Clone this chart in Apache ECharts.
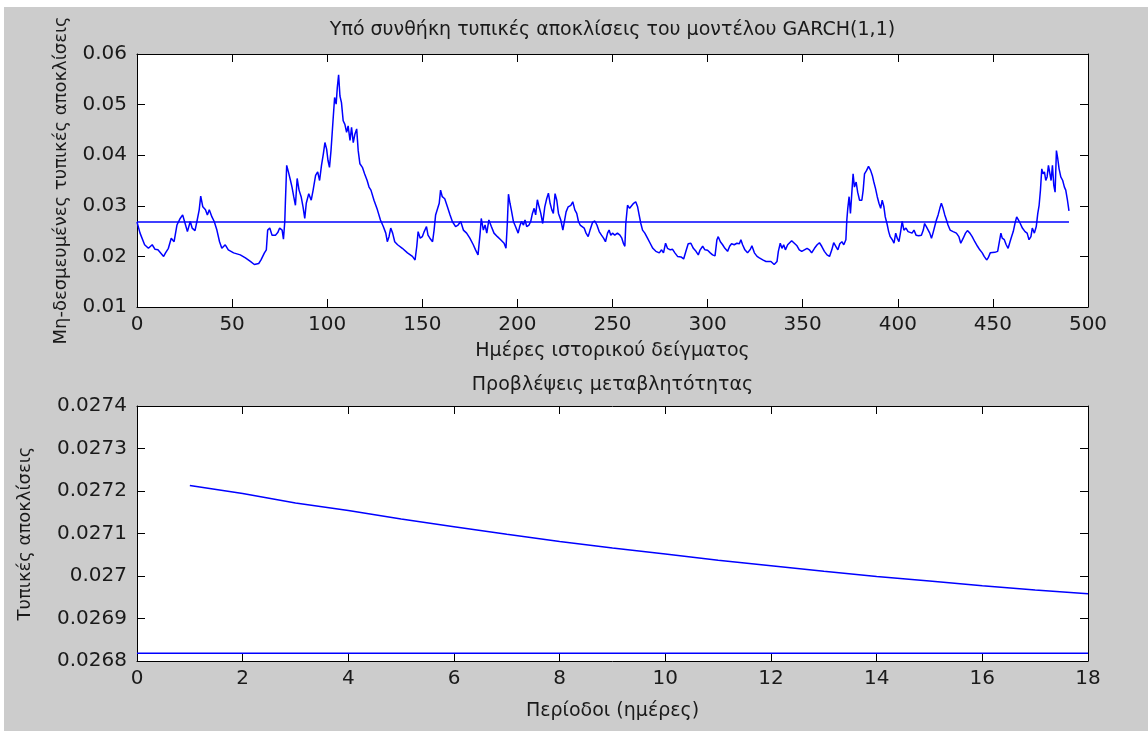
<!DOCTYPE html>
<html>
<head>
<meta charset="utf-8">
<script src="https://cdn.jsdelivr.net/npm/echarts@6.0.0/dist/echarts.min.js"></script>
<style>
  html, body { margin: 0; padding: 0; background: #fff; }
  #wrap { position: relative; width: 1148px; height: 731px; background: #fff; }
  #figbg { position: absolute; left: 4px; top: 7px; right: 0; bottom: 0; background: #cccccc; }
  #main { position: absolute; left: 0; top: 0; width: 1148px; height: 731px; }
</style>
</head>
<body>
<div id="wrap"><div id="figbg"></div><div id="main"></div></div>
<script>
// ιστορικό δείγμα: ημέρα / τυπική απόκλιση υπό συνθήκη (τιμές διαβασμένες από το γράφημα)
var histDay = [
  0, 1.6, 4, 6, 8, 9.5, 11, 14, 15, 16.5,
  18, 19.5, 21, 22.7, 24, 25.3, 26.5, 28, 29, 30.5,
  31.5, 32.7, 33.5, 34.6, 36, 37, 38, 39.4, 40.6, 42,
  43.4, 44.6, 46.4, 48, 50.8, 54.3, 57, 59.6, 61.7, 64,
  65.2, 67, 68, 68.7, 69.8, 71, 72.8, 74, 75, 76.3,
  77, 77.7, 78, 78.7, 79.6, 80.7, 81.5, 82.4, 83.3, 84.2,
  85.2, 86.3, 87.3, 88.2, 89, 90.3, 91.6, 92.6, 93.9, 95,
  96, 97, 98, 98.8, 99.7, 100.4, 101.2, 102, 103, 103.9,
  104.7, 105.3, 106, 106.7, 107.5, 108.4, 109.3, 110.2, 111, 112,
  112.8, 113.7, 114.6, 115.5, 116.3, 117.2, 118.5, 119.7, 121, 122,
  123, 124.6, 126.4, 128, 129.5, 130.8, 131.6, 132.5, 133.4, 134.4,
  135.5, 137, 139.5, 142.2, 144.8, 146.2, 147.1, 147.8, 148.9, 150,
  151, 152.2, 153, 154, 155.4, 156.2, 157, 158, 158.9, 159.6,
  160.5, 161.8, 163.2, 164.6, 165.8, 167.5, 168.8, 170.2, 171.6, 173.3,
  175, 176.8, 178, 179.3, 180.4, 181, 182.1, 183, 183.9, 185,
  186.3, 187.7, 189.5, 191.2, 193, 194, 194.7, 195.3, 196.1, 196.8,
  197.9, 199, 200.4, 201.2, 202.1, 203.2, 204, 204.9, 206.1, 207,
  207.9, 208.8, 209.6, 210.5, 211.4, 212.3, 213.3, 214.4, 215.4, 216.3,
  217.2, 218.1, 218.9, 219.8, 220.7, 221.6, 222.8, 223.9, 224.9, 225.6,
  226.7, 228.1, 229.1, 230.2, 231.2, 232.1, 233, 234, 235.1, 236.1,
  237.2, 238.2, 239.5, 240.7, 241.8, 243, 244.2, 245.3, 246.3, 247.4,
  248.2, 249.1, 250, 251.2, 252.6, 253.9, 254.9, 255.8, 256.5, 257,
  257.9, 259, 260, 261.1, 262.2, 263.2, 264, 264.9, 265.8, 267,
  268.4, 269.8, 271.2, 272.8, 274.6, 275.8, 276.8, 277.9, 278.9, 280.4,
  281.6, 282.8, 284.2, 286, 287.4, 288.6, 289.8, 291.2, 292.5, 293.9,
  295.1, 296.1, 297.4, 298.6, 300, 301.4, 302.6, 303.9, 304.9, 305.6,
  306.7, 307.9, 309.1, 310.5, 311.6, 312.6, 314, 315.4, 316.7, 317.5,
  318.4, 319.6, 321, 322.5, 323.3, 324.6, 326, 327.2, 329, 330.7,
  333.3, 335, 336.5, 337.2, 338.2, 339.1, 340, 340.9, 342.1, 343.1,
  344.2, 345.6, 347, 348.2, 349.5, 350.9, 352.3, 353.5, 354.7, 356.2,
  357.6, 358.8, 360, 361.4, 362.8, 364.1, 365.3, 366.3, 367.4, 368.5,
  369.5, 370.6, 371.6, 372.7, 373.2, 373.7, 374.4, 375.1, 375.8, 376.5,
  377.2, 378.1, 378.9, 379.9, 381.1, 381.8, 382.5, 383.6, 384.6, 385.7,
  386.6, 387.4, 388.3, 389.2, 390.1, 391, 391.8, 392.7, 393.4, 394.3,
  395.2, 396, 397.1, 398, 398.9, 399.7, 400.6, 401.5, 402.3, 403.2,
  404.3, 405.4, 406.4, 407.5, 408.5, 409.6, 411, 412.4, 413.4, 414.1,
  415, 415.9, 416.8, 417.7, 418.5, 419.4, 420.3, 421.2, 422.1, 422.9,
  423.8, 424.7, 425.6, 426.4, 427.5, 429.1, 430.8, 432.1, 433.1, 434.4,
  435.6, 436.6, 437.9, 439.1, 440.5, 441.9, 443.1, 444.4, 445.4, 446.7,
  447.5, 448.6, 449.6, 451, 452.5, 453.5, 454.2, 454.9, 456, 457,
  458, 459, 459.8, 460.7, 461.6, 462.5, 463.4, 464.4, 465.5, 466.9,
  468, 469, 470, 470.7, 471.8, 472.8, 473.6, 474.3, 475, 475.7,
  476.4, 477.1, 477.8, 478.5, 479.2, 479.9, 480.6, 481.3, 482, 482.7,
  483.4, 484.1, 484.8, 485.7, 486.7, 487.6, 488.3, 489.2, 490
];
var histSigma = [
  0.0268, 0.0246, 0.0223, 0.0216, 0.0223, 0.0214, 0.0213, 0.0200, 0.0207, 0.0216,
  0.0236, 0.0229, 0.0262, 0.0275, 0.0282, 0.0265, 0.0249, 0.0269, 0.0256, 0.0251,
  0.0269, 0.0292, 0.0319, 0.0298, 0.0292, 0.0282, 0.0292, 0.0278, 0.0269, 0.0252,
  0.0229, 0.0216, 0.0223, 0.0213, 0.0207, 0.0203, 0.0197, 0.0190, 0.0184, 0.0186,
  0.0193, 0.0207, 0.0213, 0.0252, 0.0256, 0.0242, 0.0242, 0.0247, 0.0256, 0.0252,
  0.0234, 0.0269, 0.0305, 0.0380, 0.0367, 0.0350, 0.0337, 0.0318, 0.0301, 0.0354,
  0.0331, 0.0318, 0.0298, 0.0275, 0.0305, 0.0324, 0.0311, 0.0331, 0.0360, 0.0367,
  0.0350, 0.0380, 0.0403, 0.0425, 0.0412, 0.0390, 0.0376, 0.0409, 0.0465, 0.0514,
  0.0501, 0.0533, 0.0559, 0.0517, 0.0504, 0.0468, 0.0461, 0.0445, 0.0458, 0.0429,
  0.0455, 0.0425, 0.0442, 0.0452, 0.0409, 0.0383, 0.0376, 0.0363, 0.0350, 0.0337,
  0.0331, 0.0311, 0.0292, 0.0272, 0.0259, 0.0246, 0.0229, 0.0239, 0.0256, 0.0246,
  0.0229, 0.0223, 0.0216, 0.0207, 0.0200, 0.0193, 0.0220, 0.0249, 0.0236, 0.0239,
  0.0249, 0.0259, 0.0242, 0.0236, 0.0229, 0.0252, 0.0282, 0.0285, 0.0305, 0.0331,
  0.0318, 0.0314, 0.0298, 0.0282, 0.0269, 0.0259, 0.0262, 0.0269, 0.0252, 0.0246,
  0.0236, 0.0223, 0.0213, 0.0203, 0.0246, 0.0275, 0.0252, 0.0262, 0.0246, 0.0272,
  0.0259, 0.0246, 0.0239, 0.0233, 0.0226, 0.0216, 0.0265, 0.0323, 0.0305, 0.0292,
  0.0269, 0.0259, 0.0246, 0.0259, 0.0269, 0.0262, 0.0272, 0.0259, 0.0262, 0.0269,
  0.0285, 0.0295, 0.0282, 0.0312, 0.0298, 0.0285, 0.0265, 0.0298, 0.0314, 0.0325,
  0.0305, 0.0292, 0.0285, 0.0324, 0.0311, 0.0285, 0.0272, 0.0252, 0.0249, 0.0288,
  0.0298, 0.0301, 0.0308, 0.0292, 0.0285, 0.0269, 0.0262, 0.0265, 0.0256, 0.0246,
  0.0239, 0.0252, 0.0267, 0.0270, 0.0262, 0.0249, 0.0242, 0.0236, 0.0229, 0.0246,
  0.0252, 0.0242, 0.0246, 0.0242, 0.0246, 0.0242, 0.0236, 0.0225, 0.0220, 0.0265,
  0.0301, 0.0295, 0.0298, 0.0305, 0.0308, 0.0298, 0.0282, 0.0265, 0.0252, 0.0246,
  0.0236, 0.0226, 0.0216, 0.0210, 0.0207, 0.0213, 0.0207, 0.0226, 0.0216, 0.0213,
  0.0214, 0.0207, 0.0200, 0.0199, 0.0195, 0.0210, 0.0225, 0.0226, 0.0216, 0.0210,
  0.0203, 0.0213, 0.0220, 0.0213, 0.0212, 0.0207, 0.0203, 0.0201, 0.0233, 0.0239,
  0.0229, 0.0223, 0.0216, 0.0210, 0.0220, 0.0225, 0.0223, 0.0226, 0.0225, 0.0233,
  0.0223, 0.0213, 0.0207, 0.0214, 0.0221, 0.0207, 0.0200, 0.0197, 0.0193, 0.0190,
  0.0190, 0.0184, 0.0190, 0.0210, 0.0226, 0.0216, 0.0223, 0.0213, 0.0223, 0.0220,
  0.0231, 0.0226, 0.0221, 0.0213, 0.0210, 0.0213, 0.0216, 0.0213, 0.0207, 0.0216,
  0.0223, 0.0227, 0.0220, 0.0210, 0.0203, 0.0200, 0.0213, 0.0227, 0.0220, 0.0213,
  0.0225, 0.0229, 0.0223, 0.0233, 0.0272, 0.0295, 0.0318, 0.0285, 0.0324, 0.0363,
  0.0337, 0.0347, 0.0327, 0.0311, 0.0311, 0.0331, 0.0363, 0.0370, 0.0378, 0.0370,
  0.0360, 0.0347, 0.0334, 0.0318, 0.0305, 0.0295, 0.0311, 0.0298, 0.0278, 0.0265,
  0.0249, 0.0239, 0.0233, 0.0226, 0.0246, 0.0236, 0.0229, 0.0249, 0.0269, 0.0252,
  0.0256, 0.0249, 0.0252, 0.0246, 0.0252, 0.0242, 0.0241, 0.0242, 0.0252, 0.0265,
  0.0259, 0.0256, 0.0246, 0.0236, 0.0246, 0.0259, 0.0272, 0.0282, 0.0295, 0.0305,
  0.0295, 0.0282, 0.0272, 0.0262, 0.0252, 0.0249, 0.0246, 0.0239, 0.0226, 0.0236,
  0.0246, 0.0251, 0.0246, 0.0239, 0.0229, 0.0220, 0.0213, 0.0207, 0.0200, 0.0193,
  0.0197, 0.0207, 0.0210, 0.0208, 0.0210, 0.0213, 0.0246, 0.0236, 0.0233, 0.0223,
  0.0216, 0.0229, 0.0239, 0.0249, 0.0265, 0.0278, 0.0272, 0.0265, 0.0256, 0.0249,
  0.0246, 0.0233, 0.0239, 0.0256, 0.0246, 0.0259, 0.0285, 0.0301, 0.0331, 0.0373,
  0.0363, 0.0367, 0.0350, 0.0357, 0.0380, 0.0377, 0.0350, 0.0380, 0.0341, 0.0327,
  0.0409, 0.0393, 0.0373, 0.0357, 0.0350, 0.0337, 0.0331, 0.0311, 0.0290
];
// μη-δεσμευμένη τυπική απόκλιση (οριζόντια γραμμή και στα δύο διαγράμματα)
var uncondSigma = 0.026818;

// προβλέψεις μεταβλητότητας για 18 περιόδους
var forecastDay = [1, 2, 3, 4, 5, 6, 7, 8, 9, 10, 11, 12, 13, 14, 15, 16, 17, 18];
var forecastSigma = [
  0.027213, 0.027194, 0.027172, 0.027154, 0.027134, 0.027116, 0.027098, 0.027081, 0.027066,
  0.027052, 0.027037, 0.027024, 0.027011, 0.026999, 0.026988, 0.026977, 0.026967, 0.026958
];

// άξονες
var xTicksTop = { min: 0, max: 500, step: 50 };
var yTicksTop = { min: 0.01, max: 0.06, step: 0.01 };
var xTicksBottom = { min: 0, max: 18, step: 2 };
var yTicksBottom = { min: 0.0268, max: 0.0274, step: 0.0001 };

var FONT = 'DejaVu Sans';
var BLUE = '#0000ff';
var tick = { inside: true, length: 8, lineStyle: { color: '#000', width: 1 } };
var line = { onZero: false, lineStyle: { color: '#000', width: 1 } };
var labelStyle = { color: '#1a1a1a', fontFamily: FONT, fontSize: 20 };
var nameStyle = { color: '#1a1a1a', fontFamily: FONT, fontSize: 19 };
var yNameStyle = { color: '#1a1a1a', fontFamily: FONT, fontSize: 18 };

function xPair(grid, t, name, gap, title, titleGap) {
  return [
    { type: 'value', gridIndex: grid, position: 'bottom', min: t.min, max: t.max, interval: t.step,
      name: name, nameLocation: 'middle', nameGap: gap, nameTextStyle: nameStyle,
      axisLine: line, axisTick: tick, splitLine: { show: false },
      axisLabel: Object.assign({ margin: 8 }, labelStyle) },
    { type: 'value', gridIndex: grid, position: 'top', min: t.min, max: t.max, interval: t.step,
      name: title, nameLocation: 'middle', nameGap: titleGap, nameTextStyle: nameStyle,
      axisLine: line, axisTick: tick, splitLine: { show: false }, axisLabel: { show: false } }
  ];
}
function yPair(grid, t, name, gap, digits) {
  return [
    { type: 'value', gridIndex: grid, position: 'left', min: t.min, max: t.max, interval: t.step,
      name: name, nameLocation: 'middle', nameGap: gap, nameRotate: 90, nameTextStyle: yNameStyle,
      axisLine: line, axisTick: tick, splitLine: { show: false },
      axisLabel: Object.assign({ margin: 10, formatter: function (v) { return String(+v.toFixed(digits)); } }, labelStyle) },
    { type: 'value', gridIndex: grid, position: 'right', min: t.min, max: t.max, interval: t.step,
      axisLine: line, axisTick: tick, splitLine: { show: false }, axisLabel: { show: false } }
  ];
}

function pairs(xs, ys) {
  return xs.map(function (x, i) { return [x, ys[i]]; });
}

var chart = echarts.init(document.getElementById('main'));
chart.setOption({
  animation: false,
  backgroundColor: 'transparent',
  grid: [
    { left: 137, top: 54, width: 951, height: 253, show: true, backgroundColor: '#fff', borderWidth: 0 },
    { left: 137, top: 406, width: 951, height: 255, show: true, backgroundColor: '#fff', borderWidth: 0 }
  ],
  xAxis: []
    .concat(xPair(0, xTicksTop, 'Ημέρες ιστορικού δείγματος', 35,
                  'Υπό συνθήκη τυπικές αποκλίσεις του μοντέλου GARCH(1,1)', 14))
    .concat(xPair(1, xTicksBottom, 'Περίοδοι (ημέρες)', 41, 'Προβλέψεις μεταβλητότητας', 11)),
  yAxis: []
    .concat(yPair(0, yTicksTop, 'Μη-δεσμευμένες τυπικές αποκλίσεις', 67, 2))
    .concat(yPair(1, yTicksBottom, 'Τυπικές αποκλίσεις', 103, 4)),
  series: [
    { type: 'line', xAxisIndex: 0, yAxisIndex: 0, data: pairs(histDay, histSigma),
      showSymbol: false, lineStyle: { color: BLUE, width: 1.5 }, z: 3 },
    { type: 'line', xAxisIndex: 0, yAxisIndex: 0,
      data: [[histDay[0], uncondSigma], [histDay[histDay.length - 1], uncondSigma]],
      showSymbol: false, lineStyle: { color: BLUE, width: 1.5 }, z: 3 },
    { type: 'line', xAxisIndex: 2, yAxisIndex: 2, data: pairs(forecastDay, forecastSigma),
      showSymbol: false, lineStyle: { color: BLUE, width: 1.5 }, z: 3 },
    { type: 'line', xAxisIndex: 2, yAxisIndex: 2,
      data: [[xTicksBottom.min, uncondSigma], [xTicksBottom.max, uncondSigma]],
      showSymbol: false, lineStyle: { color: BLUE, width: 1.5 }, z: 3 }
  ]
});
</script>
</body>
</html>
